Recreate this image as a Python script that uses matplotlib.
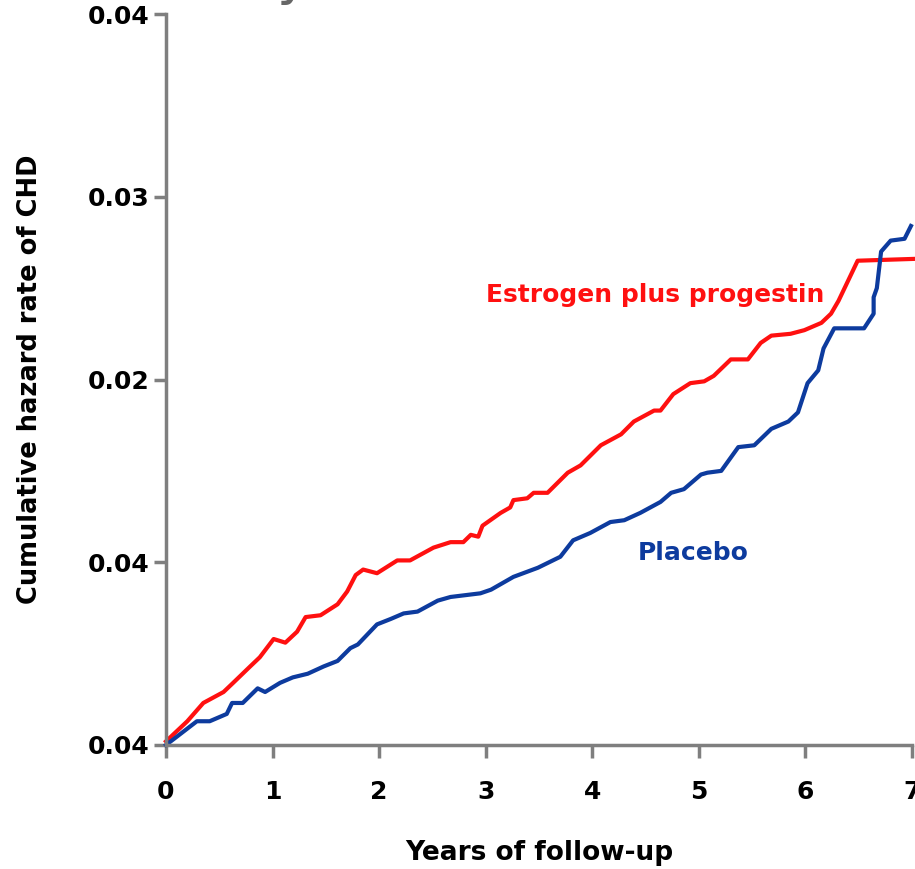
import numpy as np
import matplotlib
matplotlib.use('Agg')
import matplotlib.pyplot as plt

# Estrogen plus progestin (red)
ep_years = [0, 0.20, 0.35, 0.54, 0.63, 0.79, 0.88, 1.01, 1.12, 1.23, 1.31, 1.45, 1.61,
            1.70, 1.78, 1.85, 1.98, 2.17, 2.29, 2.51, 2.67, 2.79, 2.86, 2.93, 2.97,
            3.14, 3.23, 3.26, 3.39, 3.45, 3.58, 3.77, 3.89, 4.08, 4.27, 4.39, 4.58,
            4.64, 4.76, 4.92, 5.05, 5.14, 5.30, 5.46, 5.58, 5.68, 5.86, 5.99, 6.15,
            6.24, 6.31, 6.49, 7.02]
ep_rate = [0.0002, 0.0013, 0.0023, 0.0029, 0.0034, 0.0043, 0.0048, 0.0058, 0.0056,
           0.0062, 0.0070, 0.0071, 0.0077, 0.0084, 0.0093, 0.0096, 0.0094, 0.0101,
           0.0101, 0.0108, 0.0111, 0.0111, 0.0115, 0.0114, 0.0120, 0.0127, 0.0130,
           0.0134, 0.0135, 0.0138, 0.0138, 0.0149, 0.0153, 0.0164, 0.0170, 0.0177,
           0.0183, 0.0183, 0.0192, 0.0198, 0.0199, 0.0202, 0.0211, 0.0211, 0.0220,
           0.0224, 0.0225, 0.0227, 0.0231, 0.0236, 0.0243, 0.0265, 0.0266]

# Placebo (blue)
pl_years = [0, 0.29, 0.41, 0.57, 0.62, 0.72, 0.79, 0.86, 0.93, 1.07, 1.19, 1.33, 1.48,
            1.61, 1.73, 1.80, 1.98, 2.11, 2.23, 2.36, 2.55, 2.67, 2.95, 3.05, 3.26,
            3.49, 3.70, 3.82, 3.98, 4.17, 4.30, 4.45, 4.64, 4.74, 4.86, 5.02, 5.08,
            5.21, 5.37, 5.52, 5.68, 5.84, 5.93, 6.02, 6.12, 6.17, 6.27, 6.55, 6.64,
            6.64, 6.67, 6.71, 6.80, 6.93, 6.99]
pl_rate = [0.0, 0.0013, 0.0013, 0.0017, 0.0023, 0.0023, 0.0027, 0.0031, 0.0029, 0.0034,
           0.0037, 0.0039, 0.0043, 0.0046, 0.0053, 0.0055, 0.0066, 0.0069, 0.0072,
           0.0073, 0.0079, 0.0081, 0.0083, 0.0085, 0.0092, 0.0097, 0.0103, 0.0112,
           0.0116, 0.0122, 0.0123, 0.0127, 0.0133, 0.0138, 0.0140, 0.0148, 0.0149,
           0.0150, 0.0163, 0.0164, 0.0173, 0.0177, 0.0182, 0.0198, 0.0205, 0.0217,
           0.0228, 0.0228, 0.0236, 0.0245, 0.0250, 0.0270, 0.0276, 0.0277, 0.0284]

x_ticks = [0, 1, 2, 3, 4, 5, 6, 7]
y_ticks = [0, 0.01, 0.02, 0.03, 0.04]
y_tick_labels = ['0.04', '0.04', '0.02', '0.03', '0.04']  # as printed in the source

RED = '#ff1010'
BLUE = '#0d3b9e'
GREY = '#7f7f7f'

W, H = 915, 869
fig = plt.figure(figsize=(W / 100, H / 100), dpi=100)
ax = fig.add_axes([166 / W, (H - 745) / H, (912 - 166) / W, (745 - 14) / H])

ax.plot(ep_years, ep_rate, color=RED, lw=3, clip_on=False, solid_joinstyle='round')
ax.plot(pl_years, pl_rate, color=BLUE, lw=3, clip_on=False, solid_joinstyle='round')

ax.set_xlim(0, 7)
ax.set_ylim(0, 0.04)
ax.set_xticks(x_ticks)
ax.set_yticks(y_ticks)
ax.set_yticklabels(y_tick_labels)

for s in ['top', 'right']:
    ax.spines[s].set_visible(False)
for s in ['left', 'bottom']:
    ax.spines[s].set_color(GREY)
    ax.spines[s].set_linewidth(2.5)
ax.tick_params(colors=GREY, width=2.5, length=9, labelcolor='black', labelsize=18)
ax.tick_params(axis='x', pad=16)
ax.tick_params(axis='y', pad=3)
for lab in ax.get_xticklabels() + ax.get_yticklabels():
    lab.set_fontweight('bold')

ax.set_xlabel('Years of follow-up', fontsize=19, fontweight='bold', labelpad=26)
ax.set_ylabel('Cumulative hazard rate of CHD', fontsize=18.5, fontweight='bold', labelpad=32)

ax.text(3.0, 0.0246, 'Estrogen plus progestin', color=RED, fontsize=18,
        fontweight='bold', va='center', ha='left')
ax.text(4.43, 0.0105, 'Placebo', color=BLUE, fontsize=18,
        fontweight='bold', va='center', ha='left')

# fragment of a cropped heading above the plot
fig.text(276 / W, 1.008, 'y', color='#666666', fontsize=40, ha='left', va='baseline')

fig.savefig('out.png', dpi=100)
